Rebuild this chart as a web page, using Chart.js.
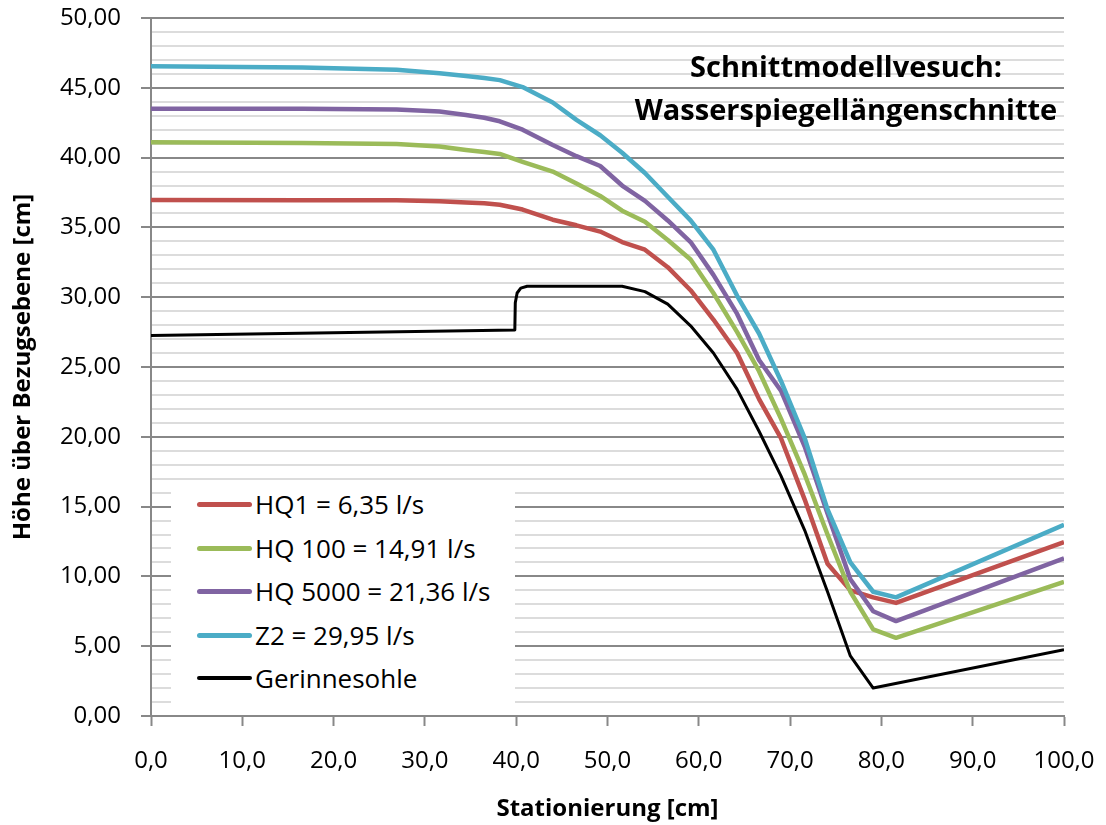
<!DOCTYPE html>
<html>
<head>
<meta charset="utf-8">
<script src="https://cdn.jsdelivr.net/npm/chart.js@4.4.1/dist/chart.umd.min.js"></script>
<style>
  html, body { margin: 0; padding: 0; background: #ffffff; }
  #wrap { position: relative; width: 1106px; height: 825px; font-family: 'Open Sans', sans-serif; color: #000; }
  #c { position: absolute; left: 0; top: 0; }
  #title { position: absolute; left: 546px; width: 600px; top: 44px; text-align: center;
           font-weight: bold; font-size: 29px; line-height: 43px; white-space: nowrap; }
  #legend { position: absolute; left: 171px; top: 484px; width: 344px; height: 222px; background: #ffffff; }
  .item { position: absolute; left: 0; height: 30px; display: flex; align-items: center; }
  .swatch { width: 55px; height: 5px; border-radius: 3px; margin-left: 26px; margin-right: 3px; }
  .lbl { font-size: 26px; white-space: nowrap; line-height: 30px; }
</style>
</head>
<body>
<div id="wrap">
  <canvas id="c" width="1106" height="825"></canvas>
  <div id="title">Schnittmodellvesuch:<br>Wasserspiegellängenschnitte</div>
  <div id="legend"></div>
</div>
<script>
// ---- data ----
const seriesNames = ['HQ1 = 6,35 l/s', 'HQ 100 = 14,91 l/s', 'HQ 5000 = 21,36 l/s', 'Z2 = 29,95 l/s', 'Gerinnesohle'];
const seriesColors = ['#C0504D', '#9BBB59', '#8064A2', '#4BACC6', '#000000'];

const stations = [0, 16.6, 26.9, 31.6, 34.5, 36.5, 38.2, 40.7, 44.0, 46.6, 49.2, 51.6, 54.1, 56.6, 59.1, 61.6, 64.2, 66.6, 69.0, 71.6, 74.1, 76.6, 79.1, 81.6, 100];
const hq1    = [36.96, 36.95, 36.95, 36.88, 36.78, 36.73, 36.62, 36.28, 35.55, 35.15, 34.7, 33.95, 33.4, 32.15, 30.5, 28.4, 26.0, 22.7, 19.9, 15.5, 10.9, 9.0, 8.5, 8.1, 12.45];
const hq100  = [41.1, 41.05, 40.98, 40.8, 40.55, 40.4, 40.26, 39.7, 39.0, 38.15, 37.25, 36.2, 35.4, 34.1, 32.7, 30.3, 27.5, 24.7, 21.3, 17.3, 13.0, 8.9, 6.2, 5.6, 9.6];
const hq5000 = [43.5, 43.5, 43.45, 43.3, 43.05, 42.85, 42.6, 42.0, 40.9, 40.1, 39.4, 38.0, 36.9, 35.5, 33.95, 31.6, 28.8, 25.5, 23.3, 19.3, 14.5, 9.8, 7.5, 6.8, 11.3];
const z2     = [46.55, 46.45, 46.3, 46.05, 45.85, 45.7, 45.55, 45.05, 43.95, 42.7, 41.6, 40.35, 38.9, 37.2, 35.5, 33.4, 30.1, 27.4, 24.0, 19.9, 14.8, 11.0, 8.9, 8.5, 13.7];

const bedStations = [0, 39.85, 39.9, 40.1, 40.5, 41.2, 51.6, 54.1, 56.6, 59.1, 61.6, 64.2, 66.6, 69.0, 71.6, 74.1, 76.6, 79.1, 100];
const bed         = [27.25, 27.65, 29.6, 30.3, 30.65, 30.78, 30.78, 30.4, 29.5, 27.95, 26.0, 23.4, 20.4, 17.2, 13.3, 8.9, 4.3, 2.0, 4.75];

const xMin = 0, xMax = 100, xStep = 10;
const yMin = 0, yMax = 50, yMajor = 5, yMinor = 1;
const xTitle = 'Stationierung [cm]';
const yTitle = 'Höhe über Bezugsebene [cm]';

// ---- build ----
function pts(xs, ys) { return xs.map((x, i) => ({ x: x, y: ys[i] })); }
const valueSets = [pts(stations, hq1), pts(stations, hq100), pts(stations, hq5000), pts(stations, z2), pts(bedStations, bed)];

const FONT = "'Open Sans', sans-serif";
const MAJOR = '#888888', MINOR = '#DCDCDC';
const isMajor = v => Math.abs(v / yMajor - Math.round(v / yMajor)) < 1e-6;
const fmt = (v, d) => v.toFixed(d).replace('.', ',');

const datasets = valueSets.map((data, i) => ({
  label: seriesNames[i],
  data: data,
  borderColor: seriesColors[i],
  backgroundColor: seriesColors[i],
  borderWidth: i === 4 ? 3 : 4.5,
  pointRadius: 0,
  showLine: true,
  tension: 0,
  borderJoinStyle: 'round',
  borderCapStyle: 'butt',
  order: 5 - i
}));

const chart = new Chart(document.getElementById('c'), {
  type: 'scatter',
  data: { datasets: datasets },
  options: {
    responsive: false,
    animation: false,
    events: [],
    layout: { padding: { top: 18, right: 42, left: 0, bottom: 0 } },
    plugins: { legend: { display: false }, tooltip: { enabled: false }, title: { display: false } },
    scales: {
      x: {
        type: 'linear', min: xMin, max: xMax,
        afterFit: s => { s.height = 109; s.paddingLeft = 0; s.paddingRight = 0; },
        border: { display: true, color: MAJOR, width: 2 },
        grid: { drawOnChartArea: false, drawTicks: true, tickLength: 10, tickColor: MAJOR, tickWidth: 2 },
        ticks: { stepSize: xStep, autoSkip: false, maxRotation: 0, padding: 21, color: '#000',
                 font: { family: FONT, size: 24 }, callback: v => fmt(v, 1) },
        title: { display: true, text: xTitle, color: '#000', font: { family: FONT, size: 24, weight: 'bold' },
                 padding: { top: 0, bottom: 1 } }
      },
      y: {
        type: 'linear', min: yMin, max: yMax,
        afterFit: s => { s.width = 151; s.paddingTop = 0; s.paddingBottom = 0; },
        border: { display: true, color: MAJOR, width: 2 },
        grid: {
          drawOnChartArea: true, drawTicks: true, tickLength: 10,
          color: c => isMajor(c.tick.value) ? MAJOR : MINOR,
          lineWidth: c => 2,
          tickColor: c => isMajor(c.tick.value) ? MAJOR : 'rgba(0,0,0,0)',
          tickWidth: 2
        },
        ticks: { stepSize: yMinor, autoSkip: false, padding: 20, color: '#000',
                 font: { family: FONT, size: 24 }, callback: v => isMajor(v) ? fmt(v, 2) : '' },
        title: { display: true, text: yTitle, color: '#000', font: { family: FONT, size: 24, weight: 'bold' },
                 padding: { top: 9, bottom: 0 } }
      }
    }
  }
});

// ---- legend (HTML, from the chart's datasets) ----
const legend = document.getElementById('legend');
const legendCenters = [20, 64, 107, 151, 194];
chart.data.datasets.forEach((ds, i) => {
  const item = document.createElement('div');
  item.className = 'item';
  item.style.top = (legendCenters[i] - 15) + 'px';
  const sw = document.createElement('div');
  sw.className = 'swatch';
  sw.style.background = ds.borderColor;
  if (i === 4) { sw.style.height = '4px'; }
  const lb = document.createElement('span');
  lb.className = 'lbl';
  lb.textContent = ds.label;
  item.appendChild(sw); item.appendChild(lb);
  legend.appendChild(item);
});
</script>
</body>
</html>
